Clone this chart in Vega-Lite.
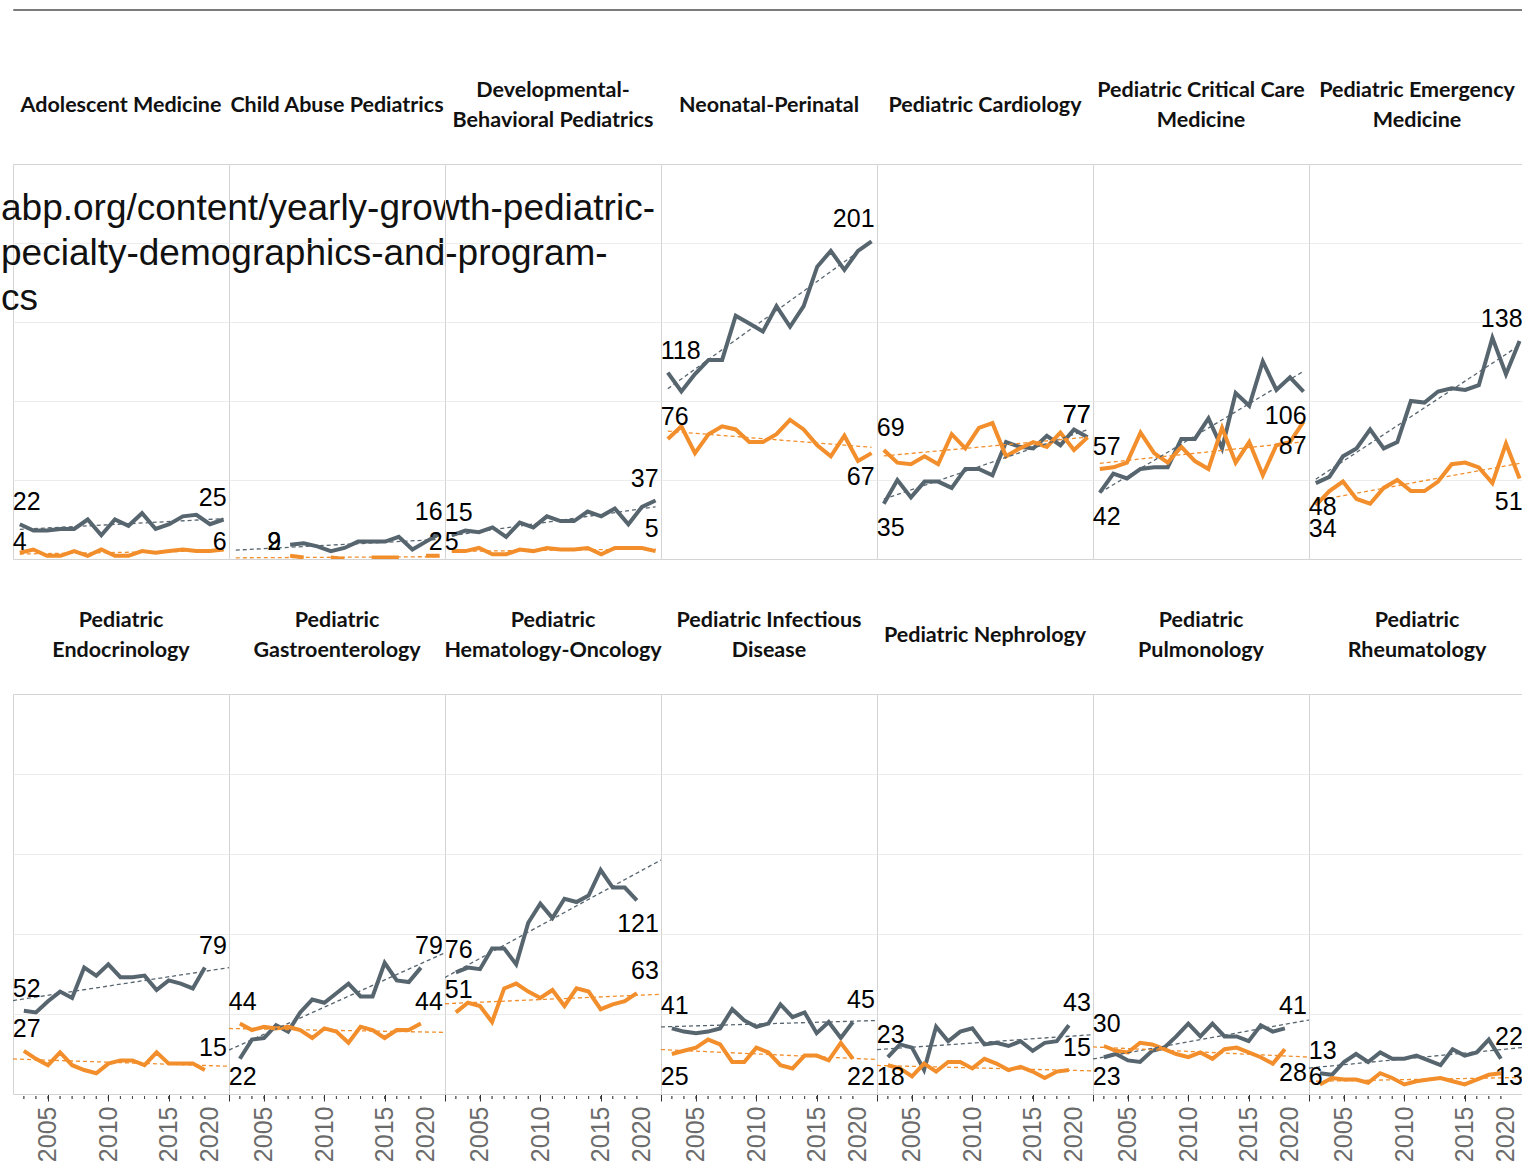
{
"$schema": "https://vega.github.io/schema/vega-lite/v6.json",
"background": "white",
"padding": {"left": 0, "top": 8, "right": 0, "bottom": 0},
"autosize": {"type": "pad"},
"config": {
  "view": {"stroke": "#d4d4d4", "strokeWidth": 1},
  "header": {"labelFont": "Lato", "labelFontWeight": "bold", "labelFontSize": 21.5, "labelColor": "#111111", "labelLineHeight": 15, "labelBaseline": "middle", "labelPadding": 22, "labelLimit": 0, "title": null},
  "text": {"font": "Liberation Sans"},
  "axis": {"labelFont": "Liberation Sans"}
},
"datasets": {
"top": [
{"specialty":"Adolescent Medicine","note":["abp.org/content/yearly-growth-pediatric-","pecialty-demographics-and-program-","cs"]},
{"specialty":"Adolescent Medicine","year":2003,"sex":"Female","fellows":22},
{"specialty":"Adolescent Medicine","year":2004,"sex":"Female","fellows":18},
{"specialty":"Adolescent Medicine","year":2005,"sex":"Female","fellows":18},
{"specialty":"Adolescent Medicine","year":2006,"sex":"Female","fellows":19},
{"specialty":"Adolescent Medicine","year":2007,"sex":"Female","fellows":19},
{"specialty":"Adolescent Medicine","year":2008,"sex":"Female","fellows":25},
{"specialty":"Adolescent Medicine","year":2009,"sex":"Female","fellows":15},
{"specialty":"Adolescent Medicine","year":2010,"sex":"Female","fellows":25},
{"specialty":"Adolescent Medicine","year":2011,"sex":"Female","fellows":21},
{"specialty":"Adolescent Medicine","year":2012,"sex":"Female","fellows":29},
{"specialty":"Adolescent Medicine","year":2013,"sex":"Female","fellows":19},
{"specialty":"Adolescent Medicine","year":2014,"sex":"Female","fellows":22},
{"specialty":"Adolescent Medicine","year":2015,"sex":"Female","fellows":27},
{"specialty":"Adolescent Medicine","year":2016,"sex":"Female","fellows":28},
{"specialty":"Adolescent Medicine","year":2017,"sex":"Female","fellows":22},
{"specialty":"Adolescent Medicine","year":2018,"sex":"Female","fellows":25},
{"specialty":"Adolescent Medicine","year":2003,"sex":"Male","fellows":4},
{"specialty":"Adolescent Medicine","year":2004,"sex":"Male","fellows":6},
{"specialty":"Adolescent Medicine","year":2005,"sex":"Male","fellows":2},
{"specialty":"Adolescent Medicine","year":2006,"sex":"Male","fellows":2},
{"specialty":"Adolescent Medicine","year":2007,"sex":"Male","fellows":5},
{"specialty":"Adolescent Medicine","year":2008,"sex":"Male","fellows":2},
{"specialty":"Adolescent Medicine","year":2009,"sex":"Male","fellows":6},
{"specialty":"Adolescent Medicine","year":2010,"sex":"Male","fellows":2},
{"specialty":"Adolescent Medicine","year":2011,"sex":"Male","fellows":2},
{"specialty":"Adolescent Medicine","year":2012,"sex":"Male","fellows":5},
{"specialty":"Adolescent Medicine","year":2013,"sex":"Male","fellows":4},
{"specialty":"Adolescent Medicine","year":2014,"sex":"Male","fellows":5},
{"specialty":"Adolescent Medicine","year":2015,"sex":"Male","fellows":6},
{"specialty":"Adolescent Medicine","year":2016,"sex":"Male","fellows":5},
{"specialty":"Adolescent Medicine","year":2017,"sex":"Male","fellows":5},
{"specialty":"Adolescent Medicine","year":2018,"sex":"Male","fellows":6},
{"specialty":"Child Abuse Pediatrics","year":2007,"sex":"Female","fellows":9},
{"specialty":"Child Abuse Pediatrics","year":2008,"sex":"Female","fellows":10},
{"specialty":"Child Abuse Pediatrics","year":2009,"sex":"Female","fellows":8},
{"specialty":"Child Abuse Pediatrics","year":2010,"sex":"Female","fellows":5},
{"specialty":"Child Abuse Pediatrics","year":2011,"sex":"Female","fellows":7},
{"specialty":"Child Abuse Pediatrics","year":2012,"sex":"Female","fellows":11},
{"specialty":"Child Abuse Pediatrics","year":2013,"sex":"Female","fellows":11},
{"specialty":"Child Abuse Pediatrics","year":2014,"sex":"Female","fellows":11},
{"specialty":"Child Abuse Pediatrics","year":2015,"sex":"Female","fellows":14},
{"specialty":"Child Abuse Pediatrics","year":2016,"sex":"Female","fellows":6},
{"specialty":"Child Abuse Pediatrics","year":2017,"sex":"Female","fellows":11},
{"specialty":"Child Abuse Pediatrics","year":2018,"sex":"Female","fellows":16},
{"specialty":"Child Abuse Pediatrics","year":2007,"sex":"Male","fellows":2},
{"specialty":"Child Abuse Pediatrics","year":2008,"sex":"Male","fellows":1},
{"specialty":"Child Abuse Pediatrics","year":2009,"sex":"Male","fellows":null},
{"specialty":"Child Abuse Pediatrics","year":2010,"sex":"Male","fellows":1},
{"specialty":"Child Abuse Pediatrics","year":2011,"sex":"Male","fellows":0},
{"specialty":"Child Abuse Pediatrics","year":2012,"sex":"Male","fellows":null},
{"specialty":"Child Abuse Pediatrics","year":2013,"sex":"Male","fellows":1},
{"specialty":"Child Abuse Pediatrics","year":2014,"sex":"Male","fellows":1},
{"specialty":"Child Abuse Pediatrics","year":2015,"sex":"Male","fellows":1},
{"specialty":"Child Abuse Pediatrics","year":2016,"sex":"Male","fellows":null},
{"specialty":"Child Abuse Pediatrics","year":2017,"sex":"Male","fellows":2},
{"specialty":"Child Abuse Pediatrics","year":2018,"sex":"Male","fellows":2},
{"specialty":"Developmental-Behavioral Pediatrics","year":2003,"sex":"Female","fellows":15},
{"specialty":"Developmental-Behavioral Pediatrics","year":2004,"sex":"Female","fellows":18},
{"specialty":"Developmental-Behavioral Pediatrics","year":2005,"sex":"Female","fellows":17},
{"specialty":"Developmental-Behavioral Pediatrics","year":2006,"sex":"Female","fellows":20},
{"specialty":"Developmental-Behavioral Pediatrics","year":2007,"sex":"Female","fellows":14},
{"specialty":"Developmental-Behavioral Pediatrics","year":2008,"sex":"Female","fellows":23},
{"specialty":"Developmental-Behavioral Pediatrics","year":2009,"sex":"Female","fellows":20},
{"specialty":"Developmental-Behavioral Pediatrics","year":2010,"sex":"Female","fellows":27},
{"specialty":"Developmental-Behavioral Pediatrics","year":2011,"sex":"Female","fellows":24},
{"specialty":"Developmental-Behavioral Pediatrics","year":2012,"sex":"Female","fellows":24},
{"specialty":"Developmental-Behavioral Pediatrics","year":2013,"sex":"Female","fellows":30},
{"specialty":"Developmental-Behavioral Pediatrics","year":2014,"sex":"Female","fellows":27},
{"specialty":"Developmental-Behavioral Pediatrics","year":2015,"sex":"Female","fellows":32},
{"specialty":"Developmental-Behavioral Pediatrics","year":2016,"sex":"Female","fellows":22},
{"specialty":"Developmental-Behavioral Pediatrics","year":2017,"sex":"Female","fellows":33},
{"specialty":"Developmental-Behavioral Pediatrics","year":2018,"sex":"Female","fellows":37},
{"specialty":"Developmental-Behavioral Pediatrics","year":2003,"sex":"Male","fellows":5},
{"specialty":"Developmental-Behavioral Pediatrics","year":2004,"sex":"Male","fellows":5},
{"specialty":"Developmental-Behavioral Pediatrics","year":2005,"sex":"Male","fellows":7},
{"specialty":"Developmental-Behavioral Pediatrics","year":2006,"sex":"Male","fellows":3},
{"specialty":"Developmental-Behavioral Pediatrics","year":2007,"sex":"Male","fellows":3},
{"specialty":"Developmental-Behavioral Pediatrics","year":2008,"sex":"Male","fellows":6},
{"specialty":"Developmental-Behavioral Pediatrics","year":2009,"sex":"Male","fellows":5},
{"specialty":"Developmental-Behavioral Pediatrics","year":2010,"sex":"Male","fellows":7},
{"specialty":"Developmental-Behavioral Pediatrics","year":2011,"sex":"Male","fellows":6},
{"specialty":"Developmental-Behavioral Pediatrics","year":2012,"sex":"Male","fellows":6},
{"specialty":"Developmental-Behavioral Pediatrics","year":2013,"sex":"Male","fellows":7},
{"specialty":"Developmental-Behavioral Pediatrics","year":2014,"sex":"Male","fellows":3},
{"specialty":"Developmental-Behavioral Pediatrics","year":2015,"sex":"Male","fellows":7},
{"specialty":"Developmental-Behavioral Pediatrics","year":2016,"sex":"Male","fellows":7},
{"specialty":"Developmental-Behavioral Pediatrics","year":2017,"sex":"Male","fellows":7},
{"specialty":"Developmental-Behavioral Pediatrics","year":2018,"sex":"Male","fellows":5},
{"specialty":"Neonatal-Perinatal","year":2003,"sex":"Female","fellows":118},
{"specialty":"Neonatal-Perinatal","year":2004,"sex":"Female","fellows":106},
{"specialty":"Neonatal-Perinatal","year":2005,"sex":"Female","fellows":117},
{"specialty":"Neonatal-Perinatal","year":2006,"sex":"Female","fellows":126},
{"specialty":"Neonatal-Perinatal","year":2007,"sex":"Female","fellows":126},
{"specialty":"Neonatal-Perinatal","year":2008,"sex":"Female","fellows":154},
{"specialty":"Neonatal-Perinatal","year":2009,"sex":"Female","fellows":149},
{"specialty":"Neonatal-Perinatal","year":2010,"sex":"Female","fellows":144},
{"specialty":"Neonatal-Perinatal","year":2011,"sex":"Female","fellows":160},
{"specialty":"Neonatal-Perinatal","year":2012,"sex":"Female","fellows":147},
{"specialty":"Neonatal-Perinatal","year":2013,"sex":"Female","fellows":160},
{"specialty":"Neonatal-Perinatal","year":2014,"sex":"Female","fellows":185},
{"specialty":"Neonatal-Perinatal","year":2015,"sex":"Female","fellows":195},
{"specialty":"Neonatal-Perinatal","year":2016,"sex":"Female","fellows":183},
{"specialty":"Neonatal-Perinatal","year":2017,"sex":"Female","fellows":195},
{"specialty":"Neonatal-Perinatal","year":2018,"sex":"Female","fellows":201},
{"specialty":"Neonatal-Perinatal","year":2003,"sex":"Male","fellows":76},
{"specialty":"Neonatal-Perinatal","year":2004,"sex":"Male","fellows":84},
{"specialty":"Neonatal-Perinatal","year":2005,"sex":"Male","fellows":67},
{"specialty":"Neonatal-Perinatal","year":2006,"sex":"Male","fellows":79},
{"specialty":"Neonatal-Perinatal","year":2007,"sex":"Male","fellows":84},
{"specialty":"Neonatal-Perinatal","year":2008,"sex":"Male","fellows":82},
{"specialty":"Neonatal-Perinatal","year":2009,"sex":"Male","fellows":74},
{"specialty":"Neonatal-Perinatal","year":2010,"sex":"Male","fellows":74},
{"specialty":"Neonatal-Perinatal","year":2011,"sex":"Male","fellows":79},
{"specialty":"Neonatal-Perinatal","year":2012,"sex":"Male","fellows":88},
{"specialty":"Neonatal-Perinatal","year":2013,"sex":"Male","fellows":82},
{"specialty":"Neonatal-Perinatal","year":2014,"sex":"Male","fellows":72},
{"specialty":"Neonatal-Perinatal","year":2015,"sex":"Male","fellows":65},
{"specialty":"Neonatal-Perinatal","year":2016,"sex":"Male","fellows":78},
{"specialty":"Neonatal-Perinatal","year":2017,"sex":"Male","fellows":62},
{"specialty":"Neonatal-Perinatal","year":2018,"sex":"Male","fellows":67},
{"specialty":"Pediatric Cardiology","year":2003,"sex":"Female","fellows":35},
{"specialty":"Pediatric Cardiology","year":2004,"sex":"Female","fellows":50},
{"specialty":"Pediatric Cardiology","year":2005,"sex":"Female","fellows":39},
{"specialty":"Pediatric Cardiology","year":2006,"sex":"Female","fellows":49},
{"specialty":"Pediatric Cardiology","year":2007,"sex":"Female","fellows":49},
{"specialty":"Pediatric Cardiology","year":2008,"sex":"Female","fellows":45},
{"specialty":"Pediatric Cardiology","year":2009,"sex":"Female","fellows":57},
{"specialty":"Pediatric Cardiology","year":2010,"sex":"Female","fellows":57},
{"specialty":"Pediatric Cardiology","year":2011,"sex":"Female","fellows":53},
{"specialty":"Pediatric Cardiology","year":2012,"sex":"Female","fellows":74},
{"specialty":"Pediatric Cardiology","year":2013,"sex":"Female","fellows":71},
{"specialty":"Pediatric Cardiology","year":2014,"sex":"Female","fellows":70},
{"specialty":"Pediatric Cardiology","year":2015,"sex":"Female","fellows":78},
{"specialty":"Pediatric Cardiology","year":2016,"sex":"Female","fellows":72},
{"specialty":"Pediatric Cardiology","year":2017,"sex":"Female","fellows":82},
{"specialty":"Pediatric Cardiology","year":2018,"sex":"Female","fellows":77},
{"specialty":"Pediatric Cardiology","year":2003,"sex":"Male","fellows":69},
{"specialty":"Pediatric Cardiology","year":2004,"sex":"Male","fellows":61},
{"specialty":"Pediatric Cardiology","year":2005,"sex":"Male","fellows":60},
{"specialty":"Pediatric Cardiology","year":2006,"sex":"Male","fellows":65},
{"specialty":"Pediatric Cardiology","year":2007,"sex":"Male","fellows":60},
{"specialty":"Pediatric Cardiology","year":2008,"sex":"Male","fellows":79},
{"specialty":"Pediatric Cardiology","year":2009,"sex":"Male","fellows":70},
{"specialty":"Pediatric Cardiology","year":2010,"sex":"Male","fellows":83},
{"specialty":"Pediatric Cardiology","year":2011,"sex":"Male","fellows":86},
{"specialty":"Pediatric Cardiology","year":2012,"sex":"Male","fellows":65},
{"specialty":"Pediatric Cardiology","year":2013,"sex":"Male","fellows":70},
{"specialty":"Pediatric Cardiology","year":2014,"sex":"Male","fellows":74},
{"specialty":"Pediatric Cardiology","year":2015,"sex":"Male","fellows":71},
{"specialty":"Pediatric Cardiology","year":2016,"sex":"Male","fellows":80},
{"specialty":"Pediatric Cardiology","year":2017,"sex":"Male","fellows":69},
{"specialty":"Pediatric Cardiology","year":2018,"sex":"Male","fellows":77},
{"specialty":"Pediatric Critical Care Medicine","year":2003,"sex":"Female","fellows":42},
{"specialty":"Pediatric Critical Care Medicine","year":2004,"sex":"Female","fellows":54},
{"specialty":"Pediatric Critical Care Medicine","year":2005,"sex":"Female","fellows":51},
{"specialty":"Pediatric Critical Care Medicine","year":2006,"sex":"Female","fellows":57},
{"specialty":"Pediatric Critical Care Medicine","year":2007,"sex":"Female","fellows":58},
{"specialty":"Pediatric Critical Care Medicine","year":2008,"sex":"Female","fellows":58},
{"specialty":"Pediatric Critical Care Medicine","year":2009,"sex":"Female","fellows":76},
{"specialty":"Pediatric Critical Care Medicine","year":2010,"sex":"Female","fellows":76},
{"specialty":"Pediatric Critical Care Medicine","year":2011,"sex":"Female","fellows":89},
{"specialty":"Pediatric Critical Care Medicine","year":2012,"sex":"Female","fellows":70},
{"specialty":"Pediatric Critical Care Medicine","year":2013,"sex":"Female","fellows":105},
{"specialty":"Pediatric Critical Care Medicine","year":2014,"sex":"Female","fellows":97},
{"specialty":"Pediatric Critical Care Medicine","year":2015,"sex":"Female","fellows":125},
{"specialty":"Pediatric Critical Care Medicine","year":2016,"sex":"Female","fellows":107},
{"specialty":"Pediatric Critical Care Medicine","year":2017,"sex":"Female","fellows":115},
{"specialty":"Pediatric Critical Care Medicine","year":2018,"sex":"Female","fellows":106},
{"specialty":"Pediatric Critical Care Medicine","year":2003,"sex":"Male","fellows":57},
{"specialty":"Pediatric Critical Care Medicine","year":2004,"sex":"Male","fellows":58},
{"specialty":"Pediatric Critical Care Medicine","year":2005,"sex":"Male","fellows":61},
{"specialty":"Pediatric Critical Care Medicine","year":2006,"sex":"Male","fellows":80},
{"specialty":"Pediatric Critical Care Medicine","year":2007,"sex":"Male","fellows":67},
{"specialty":"Pediatric Critical Care Medicine","year":2008,"sex":"Male","fellows":61},
{"specialty":"Pediatric Critical Care Medicine","year":2009,"sex":"Male","fellows":71},
{"specialty":"Pediatric Critical Care Medicine","year":2010,"sex":"Male","fellows":62},
{"specialty":"Pediatric Critical Care Medicine","year":2011,"sex":"Male","fellows":57},
{"specialty":"Pediatric Critical Care Medicine","year":2012,"sex":"Male","fellows":83},
{"specialty":"Pediatric Critical Care Medicine","year":2013,"sex":"Male","fellows":61},
{"specialty":"Pediatric Critical Care Medicine","year":2014,"sex":"Male","fellows":74},
{"specialty":"Pediatric Critical Care Medicine","year":2015,"sex":"Male","fellows":53},
{"specialty":"Pediatric Critical Care Medicine","year":2016,"sex":"Male","fellows":72},
{"specialty":"Pediatric Critical Care Medicine","year":2017,"sex":"Male","fellows":74},
{"specialty":"Pediatric Critical Care Medicine","year":2018,"sex":"Male","fellows":87},
{"specialty":"Pediatric Emergency Medicine","year":2003,"sex":"Female","fellows":48},
{"specialty":"Pediatric Emergency Medicine","year":2004,"sex":"Female","fellows":52},
{"specialty":"Pediatric Emergency Medicine","year":2005,"sex":"Female","fellows":65},
{"specialty":"Pediatric Emergency Medicine","year":2006,"sex":"Female","fellows":70},
{"specialty":"Pediatric Emergency Medicine","year":2007,"sex":"Female","fellows":82},
{"specialty":"Pediatric Emergency Medicine","year":2008,"sex":"Female","fellows":70},
{"specialty":"Pediatric Emergency Medicine","year":2009,"sex":"Female","fellows":74},
{"specialty":"Pediatric Emergency Medicine","year":2010,"sex":"Female","fellows":100},
{"specialty":"Pediatric Emergency Medicine","year":2011,"sex":"Female","fellows":99},
{"specialty":"Pediatric Emergency Medicine","year":2012,"sex":"Female","fellows":106},
{"specialty":"Pediatric Emergency Medicine","year":2013,"sex":"Female","fellows":108},
{"specialty":"Pediatric Emergency Medicine","year":2014,"sex":"Female","fellows":107},
{"specialty":"Pediatric Emergency Medicine","year":2015,"sex":"Female","fellows":110},
{"specialty":"Pediatric Emergency Medicine","year":2016,"sex":"Female","fellows":140},
{"specialty":"Pediatric Emergency Medicine","year":2017,"sex":"Female","fellows":117},
{"specialty":"Pediatric Emergency Medicine","year":2018,"sex":"Female","fellows":138},
{"specialty":"Pediatric Emergency Medicine","year":2003,"sex":"Male","fellows":34},
{"specialty":"Pediatric Emergency Medicine","year":2004,"sex":"Male","fellows":43},
{"specialty":"Pediatric Emergency Medicine","year":2005,"sex":"Male","fellows":49},
{"specialty":"Pediatric Emergency Medicine","year":2006,"sex":"Male","fellows":38},
{"specialty":"Pediatric Emergency Medicine","year":2007,"sex":"Male","fellows":35},
{"specialty":"Pediatric Emergency Medicine","year":2008,"sex":"Male","fellows":45},
{"specialty":"Pediatric Emergency Medicine","year":2009,"sex":"Male","fellows":50},
{"specialty":"Pediatric Emergency Medicine","year":2010,"sex":"Male","fellows":43},
{"specialty":"Pediatric Emergency Medicine","year":2011,"sex":"Male","fellows":43},
{"specialty":"Pediatric Emergency Medicine","year":2012,"sex":"Male","fellows":49},
{"specialty":"Pediatric Emergency Medicine","year":2013,"sex":"Male","fellows":60},
{"specialty":"Pediatric Emergency Medicine","year":2014,"sex":"Male","fellows":61},
{"specialty":"Pediatric Emergency Medicine","year":2015,"sex":"Male","fellows":58},
{"specialty":"Pediatric Emergency Medicine","year":2016,"sex":"Male","fellows":48},
{"specialty":"Pediatric Emergency Medicine","year":2017,"sex":"Male","fellows":73},
{"specialty":"Pediatric Emergency Medicine","year":2018,"sex":"Male","fellows":51}
],
"bottom": [
{"specialty":"Pediatric Endocrinology","year":2003,"sex":"Female","fellows":52},
{"specialty":"Pediatric Endocrinology","year":2004,"sex":"Female","fellows":51},
{"specialty":"Pediatric Endocrinology","year":2005,"sex":"Female","fellows":58},
{"specialty":"Pediatric Endocrinology","year":2006,"sex":"Female","fellows":64},
{"specialty":"Pediatric Endocrinology","year":2007,"sex":"Female","fellows":60},
{"specialty":"Pediatric Endocrinology","year":2008,"sex":"Female","fellows":79},
{"specialty":"Pediatric Endocrinology","year":2009,"sex":"Female","fellows":74},
{"specialty":"Pediatric Endocrinology","year":2010,"sex":"Female","fellows":81},
{"specialty":"Pediatric Endocrinology","year":2011,"sex":"Female","fellows":73},
{"specialty":"Pediatric Endocrinology","year":2012,"sex":"Female","fellows":73},
{"specialty":"Pediatric Endocrinology","year":2013,"sex":"Female","fellows":74},
{"specialty":"Pediatric Endocrinology","year":2014,"sex":"Female","fellows":65},
{"specialty":"Pediatric Endocrinology","year":2015,"sex":"Female","fellows":71},
{"specialty":"Pediatric Endocrinology","year":2016,"sex":"Female","fellows":69},
{"specialty":"Pediatric Endocrinology","year":2017,"sex":"Female","fellows":66},
{"specialty":"Pediatric Endocrinology","year":2018,"sex":"Female","fellows":79},
{"specialty":"Pediatric Endocrinology","year":2003,"sex":"Male","fellows":27},
{"specialty":"Pediatric Endocrinology","year":2004,"sex":"Male","fellows":22},
{"specialty":"Pediatric Endocrinology","year":2005,"sex":"Male","fellows":18},
{"specialty":"Pediatric Endocrinology","year":2006,"sex":"Male","fellows":26},
{"specialty":"Pediatric Endocrinology","year":2007,"sex":"Male","fellows":18},
{"specialty":"Pediatric Endocrinology","year":2008,"sex":"Male","fellows":15},
{"specialty":"Pediatric Endocrinology","year":2009,"sex":"Male","fellows":13},
{"specialty":"Pediatric Endocrinology","year":2010,"sex":"Male","fellows":19},
{"specialty":"Pediatric Endocrinology","year":2011,"sex":"Male","fellows":21},
{"specialty":"Pediatric Endocrinology","year":2012,"sex":"Male","fellows":21},
{"specialty":"Pediatric Endocrinology","year":2013,"sex":"Male","fellows":18},
{"specialty":"Pediatric Endocrinology","year":2014,"sex":"Male","fellows":26},
{"specialty":"Pediatric Endocrinology","year":2015,"sex":"Male","fellows":19},
{"specialty":"Pediatric Endocrinology","year":2016,"sex":"Male","fellows":19},
{"specialty":"Pediatric Endocrinology","year":2017,"sex":"Male","fellows":19},
{"specialty":"Pediatric Endocrinology","year":2018,"sex":"Male","fellows":15},
{"specialty":"Pediatric Gastroenterology","year":2003,"sex":"Female","fellows":22},
{"specialty":"Pediatric Gastroenterology","year":2004,"sex":"Female","fellows":34},
{"specialty":"Pediatric Gastroenterology","year":2005,"sex":"Female","fellows":35},
{"specialty":"Pediatric Gastroenterology","year":2006,"sex":"Female","fellows":43},
{"specialty":"Pediatric Gastroenterology","year":2007,"sex":"Female","fellows":39},
{"specialty":"Pediatric Gastroenterology","year":2008,"sex":"Female","fellows":51},
{"specialty":"Pediatric Gastroenterology","year":2009,"sex":"Female","fellows":59},
{"specialty":"Pediatric Gastroenterology","year":2010,"sex":"Female","fellows":57},
{"specialty":"Pediatric Gastroenterology","year":2011,"sex":"Female","fellows":63},
{"specialty":"Pediatric Gastroenterology","year":2012,"sex":"Female","fellows":69},
{"specialty":"Pediatric Gastroenterology","year":2013,"sex":"Female","fellows":61},
{"specialty":"Pediatric Gastroenterology","year":2014,"sex":"Female","fellows":61},
{"specialty":"Pediatric Gastroenterology","year":2015,"sex":"Female","fellows":82},
{"specialty":"Pediatric Gastroenterology","year":2016,"sex":"Female","fellows":71},
{"specialty":"Pediatric Gastroenterology","year":2017,"sex":"Female","fellows":70},
{"specialty":"Pediatric Gastroenterology","year":2018,"sex":"Female","fellows":79},
{"specialty":"Pediatric Gastroenterology","year":2003,"sex":"Male","fellows":44},
{"specialty":"Pediatric Gastroenterology","year":2004,"sex":"Male","fellows":40},
{"specialty":"Pediatric Gastroenterology","year":2005,"sex":"Male","fellows":42},
{"specialty":"Pediatric Gastroenterology","year":2006,"sex":"Male","fellows":41},
{"specialty":"Pediatric Gastroenterology","year":2007,"sex":"Male","fellows":42},
{"specialty":"Pediatric Gastroenterology","year":2008,"sex":"Male","fellows":40},
{"specialty":"Pediatric Gastroenterology","year":2009,"sex":"Male","fellows":35},
{"specialty":"Pediatric Gastroenterology","year":2010,"sex":"Male","fellows":41},
{"specialty":"Pediatric Gastroenterology","year":2011,"sex":"Male","fellows":39},
{"specialty":"Pediatric Gastroenterology","year":2012,"sex":"Male","fellows":32},
{"specialty":"Pediatric Gastroenterology","year":2013,"sex":"Male","fellows":42},
{"specialty":"Pediatric Gastroenterology","year":2014,"sex":"Male","fellows":40},
{"specialty":"Pediatric Gastroenterology","year":2015,"sex":"Male","fellows":35},
{"specialty":"Pediatric Gastroenterology","year":2016,"sex":"Male","fellows":40},
{"specialty":"Pediatric Gastroenterology","year":2017,"sex":"Male","fellows":40},
{"specialty":"Pediatric Gastroenterology","year":2018,"sex":"Male","fellows":44},
{"specialty":"Pediatric Hematology-Oncology","year":2003,"sex":"Female","fellows":76},
{"specialty":"Pediatric Hematology-Oncology","year":2004,"sex":"Female","fellows":79},
{"specialty":"Pediatric Hematology-Oncology","year":2005,"sex":"Female","fellows":78},
{"specialty":"Pediatric Hematology-Oncology","year":2006,"sex":"Female","fellows":91},
{"specialty":"Pediatric Hematology-Oncology","year":2007,"sex":"Female","fellows":91},
{"specialty":"Pediatric Hematology-Oncology","year":2008,"sex":"Female","fellows":81},
{"specialty":"Pediatric Hematology-Oncology","year":2009,"sex":"Female","fellows":107},
{"specialty":"Pediatric Hematology-Oncology","year":2010,"sex":"Female","fellows":119},
{"specialty":"Pediatric Hematology-Oncology","year":2011,"sex":"Female","fellows":110},
{"specialty":"Pediatric Hematology-Oncology","year":2012,"sex":"Female","fellows":122},
{"specialty":"Pediatric Hematology-Oncology","year":2013,"sex":"Female","fellows":120},
{"specialty":"Pediatric Hematology-Oncology","year":2014,"sex":"Female","fellows":124},
{"specialty":"Pediatric Hematology-Oncology","year":2015,"sex":"Female","fellows":140},
{"specialty":"Pediatric Hematology-Oncology","year":2016,"sex":"Female","fellows":129},
{"specialty":"Pediatric Hematology-Oncology","year":2017,"sex":"Female","fellows":129},
{"specialty":"Pediatric Hematology-Oncology","year":2018,"sex":"Female","fellows":121},
{"specialty":"Pediatric Hematology-Oncology","year":2003,"sex":"Male","fellows":51},
{"specialty":"Pediatric Hematology-Oncology","year":2004,"sex":"Male","fellows":57},
{"specialty":"Pediatric Hematology-Oncology","year":2005,"sex":"Male","fellows":55},
{"specialty":"Pediatric Hematology-Oncology","year":2006,"sex":"Male","fellows":45},
{"specialty":"Pediatric Hematology-Oncology","year":2007,"sex":"Male","fellows":66},
{"specialty":"Pediatric Hematology-Oncology","year":2008,"sex":"Male","fellows":69},
{"specialty":"Pediatric Hematology-Oncology","year":2009,"sex":"Male","fellows":64},
{"specialty":"Pediatric Hematology-Oncology","year":2010,"sex":"Male","fellows":60},
{"specialty":"Pediatric Hematology-Oncology","year":2011,"sex":"Male","fellows":65},
{"specialty":"Pediatric Hematology-Oncology","year":2012,"sex":"Male","fellows":55},
{"specialty":"Pediatric Hematology-Oncology","year":2013,"sex":"Male","fellows":66},
{"specialty":"Pediatric Hematology-Oncology","year":2014,"sex":"Male","fellows":64},
{"specialty":"Pediatric Hematology-Oncology","year":2015,"sex":"Male","fellows":53},
{"specialty":"Pediatric Hematology-Oncology","year":2016,"sex":"Male","fellows":56},
{"specialty":"Pediatric Hematology-Oncology","year":2017,"sex":"Male","fellows":58},
{"specialty":"Pediatric Hematology-Oncology","year":2018,"sex":"Male","fellows":63},
{"specialty":"Pediatric Infectious Disease","year":2003,"sex":"Female","fellows":41},
{"specialty":"Pediatric Infectious Disease","year":2004,"sex":"Female","fellows":39},
{"specialty":"Pediatric Infectious Disease","year":2005,"sex":"Female","fellows":38},
{"specialty":"Pediatric Infectious Disease","year":2006,"sex":"Female","fellows":39},
{"specialty":"Pediatric Infectious Disease","year":2007,"sex":"Female","fellows":41},
{"specialty":"Pediatric Infectious Disease","year":2008,"sex":"Female","fellows":53},
{"specialty":"Pediatric Infectious Disease","year":2009,"sex":"Female","fellows":46},
{"specialty":"Pediatric Infectious Disease","year":2010,"sex":"Female","fellows":42},
{"specialty":"Pediatric Infectious Disease","year":2011,"sex":"Female","fellows":44},
{"specialty":"Pediatric Infectious Disease","year":2012,"sex":"Female","fellows":56},
{"specialty":"Pediatric Infectious Disease","year":2013,"sex":"Female","fellows":48},
{"specialty":"Pediatric Infectious Disease","year":2014,"sex":"Female","fellows":51},
{"specialty":"Pediatric Infectious Disease","year":2015,"sex":"Female","fellows":38},
{"specialty":"Pediatric Infectious Disease","year":2016,"sex":"Female","fellows":45},
{"specialty":"Pediatric Infectious Disease","year":2017,"sex":"Female","fellows":35},
{"specialty":"Pediatric Infectious Disease","year":2018,"sex":"Female","fellows":45},
{"specialty":"Pediatric Infectious Disease","year":2003,"sex":"Male","fellows":25},
{"specialty":"Pediatric Infectious Disease","year":2004,"sex":"Male","fellows":27},
{"specialty":"Pediatric Infectious Disease","year":2005,"sex":"Male","fellows":29},
{"specialty":"Pediatric Infectious Disease","year":2006,"sex":"Male","fellows":34},
{"specialty":"Pediatric Infectious Disease","year":2007,"sex":"Male","fellows":31},
{"specialty":"Pediatric Infectious Disease","year":2008,"sex":"Male","fellows":20},
{"specialty":"Pediatric Infectious Disease","year":2009,"sex":"Male","fellows":20},
{"specialty":"Pediatric Infectious Disease","year":2010,"sex":"Male","fellows":29},
{"specialty":"Pediatric Infectious Disease","year":2011,"sex":"Male","fellows":26},
{"specialty":"Pediatric Infectious Disease","year":2012,"sex":"Male","fellows":18},
{"specialty":"Pediatric Infectious Disease","year":2013,"sex":"Male","fellows":16},
{"specialty":"Pediatric Infectious Disease","year":2014,"sex":"Male","fellows":24},
{"specialty":"Pediatric Infectious Disease","year":2015,"sex":"Male","fellows":24},
{"specialty":"Pediatric Infectious Disease","year":2016,"sex":"Male","fellows":21},
{"specialty":"Pediatric Infectious Disease","year":2017,"sex":"Male","fellows":32},
{"specialty":"Pediatric Infectious Disease","year":2018,"sex":"Male","fellows":22},
{"specialty":"Pediatric Nephrology","year":2003,"sex":"Female","fellows":23},
{"specialty":"Pediatric Nephrology","year":2004,"sex":"Female","fellows":31},
{"specialty":"Pediatric Nephrology","year":2005,"sex":"Female","fellows":29},
{"specialty":"Pediatric Nephrology","year":2006,"sex":"Female","fellows":15},
{"specialty":"Pediatric Nephrology","year":2007,"sex":"Female","fellows":42},
{"specialty":"Pediatric Nephrology","year":2008,"sex":"Female","fellows":33},
{"specialty":"Pediatric Nephrology","year":2009,"sex":"Female","fellows":39},
{"specialty":"Pediatric Nephrology","year":2010,"sex":"Female","fellows":41},
{"specialty":"Pediatric Nephrology","year":2011,"sex":"Female","fellows":31},
{"specialty":"Pediatric Nephrology","year":2012,"sex":"Female","fellows":32},
{"specialty":"Pediatric Nephrology","year":2013,"sex":"Female","fellows":30},
{"specialty":"Pediatric Nephrology","year":2014,"sex":"Female","fellows":33},
{"specialty":"Pediatric Nephrology","year":2015,"sex":"Female","fellows":27},
{"specialty":"Pediatric Nephrology","year":2016,"sex":"Female","fellows":32},
{"specialty":"Pediatric Nephrology","year":2017,"sex":"Female","fellows":33},
{"specialty":"Pediatric Nephrology","year":2018,"sex":"Female","fellows":43},
{"specialty":"Pediatric Nephrology","year":2003,"sex":"Male","fellows":18},
{"specialty":"Pediatric Nephrology","year":2004,"sex":"Male","fellows":16},
{"specialty":"Pediatric Nephrology","year":2005,"sex":"Male","fellows":11},
{"specialty":"Pediatric Nephrology","year":2006,"sex":"Male","fellows":19},
{"specialty":"Pediatric Nephrology","year":2007,"sex":"Male","fellows":14},
{"specialty":"Pediatric Nephrology","year":2008,"sex":"Male","fellows":20},
{"specialty":"Pediatric Nephrology","year":2009,"sex":"Male","fellows":20},
{"specialty":"Pediatric Nephrology","year":2010,"sex":"Male","fellows":16},
{"specialty":"Pediatric Nephrology","year":2011,"sex":"Male","fellows":22},
{"specialty":"Pediatric Nephrology","year":2012,"sex":"Male","fellows":19},
{"specialty":"Pediatric Nephrology","year":2013,"sex":"Male","fellows":15},
{"specialty":"Pediatric Nephrology","year":2014,"sex":"Male","fellows":17},
{"specialty":"Pediatric Nephrology","year":2015,"sex":"Male","fellows":14},
{"specialty":"Pediatric Nephrology","year":2016,"sex":"Male","fellows":10},
{"specialty":"Pediatric Nephrology","year":2017,"sex":"Male","fellows":14},
{"specialty":"Pediatric Nephrology","year":2018,"sex":"Male","fellows":15},
{"specialty":"Pediatric Pulmonology","year":2003,"sex":"Female","fellows":23},
{"specialty":"Pediatric Pulmonology","year":2004,"sex":"Female","fellows":25},
{"specialty":"Pediatric Pulmonology","year":2005,"sex":"Female","fellows":21},
{"specialty":"Pediatric Pulmonology","year":2006,"sex":"Female","fellows":20},
{"specialty":"Pediatric Pulmonology","year":2007,"sex":"Female","fellows":27},
{"specialty":"Pediatric Pulmonology","year":2008,"sex":"Female","fellows":29},
{"specialty":"Pediatric Pulmonology","year":2009,"sex":"Female","fellows":36},
{"specialty":"Pediatric Pulmonology","year":2010,"sex":"Female","fellows":44},
{"specialty":"Pediatric Pulmonology","year":2011,"sex":"Female","fellows":36},
{"specialty":"Pediatric Pulmonology","year":2012,"sex":"Female","fellows":44},
{"specialty":"Pediatric Pulmonology","year":2013,"sex":"Female","fellows":36},
{"specialty":"Pediatric Pulmonology","year":2014,"sex":"Female","fellows":36},
{"specialty":"Pediatric Pulmonology","year":2015,"sex":"Female","fellows":33},
{"specialty":"Pediatric Pulmonology","year":2016,"sex":"Female","fellows":43},
{"specialty":"Pediatric Pulmonology","year":2017,"sex":"Female","fellows":39},
{"specialty":"Pediatric Pulmonology","year":2018,"sex":"Female","fellows":41},
{"specialty":"Pediatric Pulmonology","year":2003,"sex":"Male","fellows":30},
{"specialty":"Pediatric Pulmonology","year":2004,"sex":"Male","fellows":27},
{"specialty":"Pediatric Pulmonology","year":2005,"sex":"Male","fellows":26},
{"specialty":"Pediatric Pulmonology","year":2006,"sex":"Male","fellows":32},
{"specialty":"Pediatric Pulmonology","year":2007,"sex":"Male","fellows":31},
{"specialty":"Pediatric Pulmonology","year":2008,"sex":"Male","fellows":28},
{"specialty":"Pediatric Pulmonology","year":2009,"sex":"Male","fellows":25},
{"specialty":"Pediatric Pulmonology","year":2010,"sex":"Male","fellows":23},
{"specialty":"Pediatric Pulmonology","year":2011,"sex":"Male","fellows":26},
{"specialty":"Pediatric Pulmonology","year":2012,"sex":"Male","fellows":22},
{"specialty":"Pediatric Pulmonology","year":2013,"sex":"Male","fellows":28},
{"specialty":"Pediatric Pulmonology","year":2014,"sex":"Male","fellows":29},
{"specialty":"Pediatric Pulmonology","year":2015,"sex":"Male","fellows":26},
{"specialty":"Pediatric Pulmonology","year":2016,"sex":"Male","fellows":23},
{"specialty":"Pediatric Pulmonology","year":2017,"sex":"Male","fellows":19},
{"specialty":"Pediatric Pulmonology","year":2018,"sex":"Male","fellows":28},
{"specialty":"Pediatric Rheumatology","year":2003,"sex":"Female","fellows":13},
{"specialty":"Pediatric Rheumatology","year":2004,"sex":"Female","fellows":12},
{"specialty":"Pediatric Rheumatology","year":2005,"sex":"Female","fellows":20},
{"specialty":"Pediatric Rheumatology","year":2006,"sex":"Female","fellows":25},
{"specialty":"Pediatric Rheumatology","year":2007,"sex":"Female","fellows":20},
{"specialty":"Pediatric Rheumatology","year":2008,"sex":"Female","fellows":26},
{"specialty":"Pediatric Rheumatology","year":2009,"sex":"Female","fellows":22},
{"specialty":"Pediatric Rheumatology","year":2010,"sex":"Female","fellows":22},
{"specialty":"Pediatric Rheumatology","year":2011,"sex":"Female","fellows":24},
{"specialty":"Pediatric Rheumatology","year":2012,"sex":"Female","fellows":21},
{"specialty":"Pediatric Rheumatology","year":2013,"sex":"Female","fellows":18},
{"specialty":"Pediatric Rheumatology","year":2014,"sex":"Female","fellows":28},
{"specialty":"Pediatric Rheumatology","year":2015,"sex":"Female","fellows":24},
{"specialty":"Pediatric Rheumatology","year":2016,"sex":"Female","fellows":26},
{"specialty":"Pediatric Rheumatology","year":2017,"sex":"Female","fellows":34},
{"specialty":"Pediatric Rheumatology","year":2018,"sex":"Female","fellows":22},
{"specialty":"Pediatric Rheumatology","year":2003,"sex":"Male","fellows":6},
{"specialty":"Pediatric Rheumatology","year":2004,"sex":"Male","fellows":10},
{"specialty":"Pediatric Rheumatology","year":2005,"sex":"Male","fellows":9},
{"specialty":"Pediatric Rheumatology","year":2006,"sex":"Male","fellows":9},
{"specialty":"Pediatric Rheumatology","year":2007,"sex":"Male","fellows":7},
{"specialty":"Pediatric Rheumatology","year":2008,"sex":"Male","fellows":13},
{"specialty":"Pediatric Rheumatology","year":2009,"sex":"Male","fellows":10},
{"specialty":"Pediatric Rheumatology","year":2010,"sex":"Male","fellows":6},
{"specialty":"Pediatric Rheumatology","year":2011,"sex":"Male","fellows":8},
{"specialty":"Pediatric Rheumatology","year":2012,"sex":"Male","fellows":9},
{"specialty":"Pediatric Rheumatology","year":2013,"sex":"Male","fellows":10},
{"specialty":"Pediatric Rheumatology","year":2014,"sex":"Male","fellows":8},
{"specialty":"Pediatric Rheumatology","year":2015,"sex":"Male","fellows":6},
{"specialty":"Pediatric Rheumatology","year":2016,"sex":"Male","fellows":9},
{"specialty":"Pediatric Rheumatology","year":2017,"sex":"Male","fellows":12},
{"specialty":"Pediatric Rheumatology","year":2018,"sex":"Male","fellows":13}
]
},
"spacing": 68,
"vconcat": [
{
  "width": 1510, "height": 1,
  "data": {"values": [{}]},
  "mark": {"type": "rule", "opacity": 0},
  "encoding": {},
  "view": {"stroke": "#7a7a7a", "strokeWidth": 1}
},
{
"spacing": 49,
"vconcat": [
{
  "data": {"name": "top"},
  "spacing": 0,
  "bounds": "flush",
  "facet": {"column": {"field": "specialty", "type": "nominal", "header": {
    "labelExpr": "datum.value == 'Developmental-Behavioral Pediatrics' ? ['Developmental-', '\u2800', 'Behavioral Pediatrics'] : datum.value == 'Pediatric Critical Care Medicine' ? ['Pediatric Critical Care', '\u2800', 'Medicine'] : datum.value == 'Pediatric Emergency Medicine' ? ['Pediatric Emergency', '\u2800', 'Medicine'] : ['', datum.value, '']"
  }}},
  "spec": {
    "width": 216, "height": 395,
    "layer": [
      {
        "transform": [{"filter": "isValid(datum.year)"}],
        "mark": {"type": "line", "strokeWidth": 4, "clip": true, "invalid": "break-paths-filter-domains"},
        "encoding": {
          "x": {"field": "year", "type": "quantitative", "scale": {"domain": [2002.5, 2018.4], "nice": false, "zero": false}, "axis": null},
          "y": {"field": "fellows", "type": "quantitative", "scale": {"domain": [0, 250], "nice": false}, "axis": {"values": [50, 100, 150, 200], "labels": false, "ticks": false, "domain": false, "title": null, "grid": true, "gridColor": "#ececec"}},
          "color": {"field": "sex", "type": "nominal", "scale": {"domain": ["Female", "Male"], "range": ["#57656f", "#f28e2b"]}, "legend": null}
        }
      },
      {
        "transform": [{"filter": "isValid(datum.fellows)"}, {"regression": "fellows", "on": "year", "groupby": ["specialty", "sex"], "extent": [2003, 2018]}],
        "mark": {"type": "line", "strokeWidth": 1.3, "strokeDash": [4, 3], "clip": true},
        "encoding": {
          "x": {"field": "year", "type": "quantitative"},
          "y": {"field": "fellows", "type": "quantitative"},
          "color": {"field": "sex", "type": "nominal", "legend": null}
        }
      },
      {
        "transform": [
          {"filter": "isValid(datum.fellows)"},
          {"joinaggregate": [{"op": "sum", "field": "fellows", "as": "tot"}], "groupby": ["specialty", "year"]},
          {"window": [{"op": "row_number", "as": "rn"}, {"op": "count", "as": "n"}, {"op": "lag", "field": "fellows", "as": "p1"}, {"op": "lag", "field": "fellows", "param": 2, "as": "p2"}, {"op": "lead", "field": "fellows", "as": "n1"}, {"op": "lead", "field": "fellows", "param": 2, "as": "n2"}], "sort": [{"field": "year"}], "groupby": ["specialty", "sex"], "frame": [null, null]},
          {"filter": "datum.rn == 1 || datum.rn == datum.n"}
        ],
        "mark": {"type": "text", "fontSize": 25, "color": "#000000", "baseline": "middle",
          "align": {"expr": "datum.rn == 1 ? (datum.year > 2003 ? 'right' : 'left') : 'right'"},
          "dx": {"expr": "datum.rn == 1 ? (datum.year > 2003 ? -9 : -7) : 3"},
          "dy": {"expr": "min((datum.rn == 1 && datum.year > 2003) ? 0 : (((max(datum.rn == 1 ? datum.n1 : datum.p1, datum.rn == 1 ? datum.n2 : datum.p2) > datum.fellows + (datum.fellows >= 100 ? 6 : 8) || (datum.tot - 2 * datum.fellows > 4 && datum.tot - 2 * datum.fellows < 24)) && !(2 * datum.fellows - datum.tot > 4 && 2 * datum.fellows - datum.tot < 12)) ? 24 : -22), datum.fellows * 1.58 - 17)"}
        },
        "encoding": {
          "x": {"field": "year", "type": "quantitative"},
          "y": {"field": "fellows", "type": "quantitative"},
          "text": {"field": "fellows", "type": "quantitative", "format": "d"}
        }
      },
      {
        "transform": [{"filter": "isValid(datum.note)"}],
        "mark": {"type": "text", "fontSize": 37, "lineHeight": 45, "align": "left", "baseline": "middle", "color": "#111111", "dx": -12},
        "encoding": {
          "x": {"datum": 2002.5},
          "y": {"datum": 221.5},
          "text": {"field": "note"}
        }
      }
    ]
  }
},
{
  "data": {"name": "bottom"},
  "spacing": 0,
  "bounds": "flush",
  "facet": {"column": {"field": "specialty", "type": "nominal", "header": {
    "labelExpr": "datum.value == 'Pediatric Infectious Disease' ? ['Pediatric Infectious', '\u2800', 'Disease'] : datum.value == 'Pediatric Nephrology' ? ['', datum.value, ''] : ['Pediatric', '\u2800', replace(datum.value, 'Pediatric ', '')]"
  }}},
  "spec": {
    "width": 216, "height": 400,
    "layer": [
      {
        "mark": {"type": "line", "strokeWidth": 4, "clip": true},
        "encoding": {
          "x": {"field": "year", "type": "quantitative", "scale": {"domain": [2002.1, 2020], "nice": false, "zero": false}, "axis": {
            "values": [2005, 2010, 2015, 2020],
            "format": "d",
            "labelAngle": 270, "labelFontSize": 25, "labelColor": "#6b6b6b", "labelPadding": 5,
            "labelOffset": {"condition": {"test": "datum.value == 2020", "value": -20}, "value": 0},
            "tickSize": 7,
            "tickColor": "#333333", "domainColor": "#cfcfcf", "title": null, "grid": false,
            "labelOverlap": false, "labelBound": false, "labelFlush": false
          }},
          "y": {"field": "fellows", "type": "quantitative", "scale": {"domain": [0, 250], "nice": false}, "axis": {"values": [50, 100, 150, 200], "labels": false, "ticks": false, "domain": false, "title": null, "grid": true, "gridColor": "#ececec"}},
          "color": {"field": "sex", "type": "nominal", "scale": {"domain": ["Female", "Male"], "range": ["#57656f", "#f28e2b"]}, "legend": null}
        }
      },
      {
        "mark": {"type": "tick", "orient": "vertical", "size": 3, "thickness": 1, "color": "#333333", "yOffset": 3.5, "clip": false},
        "encoding": {
          "x": {"field": "year", "type": "quantitative"},
          "y": {"datum": 0}
        }
      },
      {
        "transform": [{"regression": "fellows", "on": "year", "groupby": ["specialty", "sex"], "extent": [2002.1, 2020]}],
        "mark": {"type": "line", "strokeWidth": 1.3, "strokeDash": [4, 3], "clip": true},
        "encoding": {
          "x": {"field": "year", "type": "quantitative"},
          "y": {"field": "fellows", "type": "quantitative"},
          "color": {"field": "sex", "type": "nominal", "legend": null}
        }
      },
      {
        "transform": [
          {"joinaggregate": [{"op": "sum", "field": "fellows", "as": "tot"}], "groupby": ["specialty", "year"]},
          {"window": [{"op": "row_number", "as": "rn"}, {"op": "count", "as": "n"}, {"op": "lag", "field": "fellows", "as": "p1"}, {"op": "lag", "field": "fellows", "param": 2, "as": "p2"}, {"op": "lead", "field": "fellows", "as": "n1"}, {"op": "lead", "field": "fellows", "param": 2, "as": "n2"}], "sort": [{"field": "year"}], "groupby": ["specialty", "sex"], "frame": [null, null]},
          {"filter": "datum.rn == 1 || datum.rn == datum.n"}
        ],
        "mark": {"type": "text", "fontSize": 25, "color": "#000000", "baseline": "middle",
          "align": {"expr": "datum.rn == 1 ? 'left' : 'right'"},
          "dx": {"expr": "datum.rn == 1 ? -11 : 22"},
          "dy": {"expr": "min((((max(datum.rn == 1 ? datum.n1 : datum.p1, datum.rn == 1 ? datum.n2 : datum.p2) > datum.fellows + (datum.fellows >= 100 ? 6 : 8) || (datum.tot - 2 * datum.fellows > 4 && datum.tot - 2 * datum.fellows < 24)) && !(2 * datum.fellows - datum.tot > 4 && 2 * datum.fellows - datum.tot < 12)) ? 24 : -22), datum.fellows * 1.6 - 17)"}
        },
        "encoding": {
          "x": {"field": "year", "type": "quantitative"},
          "y": {"field": "fellows", "type": "quantitative"},
          "text": {"field": "fellows", "type": "quantitative", "format": "d"}
        }
      }
    ]
  }
}
]
}
]
}
